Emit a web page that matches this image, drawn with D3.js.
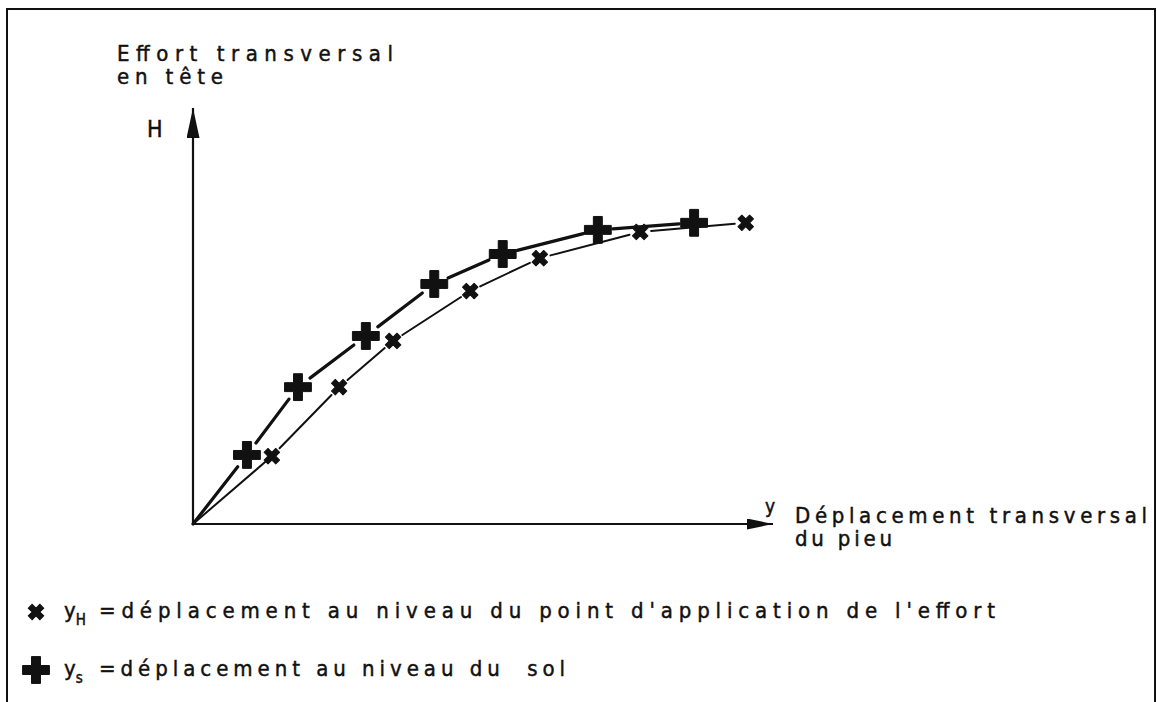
<!DOCTYPE html>
<html>
<head>
<meta charset="utf-8">
<script src="https://cdn.jsdelivr.net/npm/d3@7"></script>
<style>
  html, body { margin: 0; padding: 0; background: #fff; }
  text { font-family: "DejaVu Sans Condensed", "DejaVu Sans", sans-serif; fill: #111; stroke: #111; stroke-width: 0.45px; white-space: pre; }
</style>
</head>
<body>
<svg id="chart" width="1157" height="702"></svg>
<script>
// ---- data (arbitrary units) ----
const seriesNames = ["yH", "ys"];
const ysX = [9.3, 18.1, 29.8, 41.6, 53.4, 69.8, 86.4];
const ysY = [16.6, 32.9, 45.2, 57.7, 64.9, 70.7, 72.4];
const yhX = [13.6, 25.2, 34.5, 47.8, 59.8, 77.1, 95.3];
const yhY = [16.3, 32.9, 44.0, 56.0, 63.9, 70.2, 72.4];
const yAxisTitle = ["Effort transversal", "en tête"];
const xAxisTitle = ["Déplacement transversal", "du pieu"];
const legendTexts = ["=déplacement au niveau du point d'application de l'effort", "=déplacement au niveau du  sol"];
const legendSubs = ["H", "s"];

const svg = d3.select("#chart");
const x = d3.scaleLinear().domain([0, 100]).range([193, 773]);
const y = d3.scaleLinear().domain([0, 100]).range([524, 108]);

// frame
svg.append("path").attr("d", "M7,702 V9 H1155 V702").attr("fill", "none").attr("stroke", "#111").attr("stroke-width", 2);

// arrow markers
const defs = svg.append("defs");
defs.append("marker").attr("id", "arrV").attr("markerUnits", "userSpaceOnUse")
  .attr("viewBox", "0 0 30 13").attr("refX", 30).attr("refY", 6.5)
  .attr("markerWidth", 30).attr("markerHeight", 13).attr("orient", "auto")
  .append("path").attr("d", "M0,0 L30,6.5 L0,13 Z").attr("fill", "#111");
defs.append("marker").attr("id", "arrH").attr("markerUnits", "userSpaceOnUse")
  .attr("viewBox", "0 0 26 11").attr("refX", 26).attr("refY", 5.5)
  .attr("markerWidth", 26).attr("markerHeight", 11).attr("orient", "auto")
  .append("path").attr("d", "M0,0 L26,5.5 L0,11 Z").attr("fill", "#111");

// axes (domain lines only)
const xAxisG = svg.append("g").attr("transform", `translate(0,${y(0)})`)
  .call(d3.axisBottom(x).tickValues([]).tickSizeOuter(0));
xAxisG.select(".domain").attr("stroke", "#111").attr("stroke-width", 2.2).attr("marker-end", "url(#arrH)")
  .attr("d", `M${x(0) - 1},0 H${x(100)}`);
const yAxisG = svg.append("g").attr("transform", `translate(${x(0)},0)`)
  .call(d3.axisLeft(y).tickValues([]).tickSizeOuter(0));
yAxisG.select(".domain").attr("stroke", "#111").attr("stroke-width", 2.2).attr("marker-end", "url(#arrV)")
  .attr("d", `M0,${y(0) + 1} V${y(100)}`);

// series lines: segments between successive points, stopping short of markers
function drawSeries(xs, ys, width, gap, firstEndGap) {
  const pts = [[x(0), y(0)]].concat(xs.map((v, i) => [x(v), y(ys[i])]));
  const line = d3.line();
  for (let i = 0; i < pts.length - 1; i++) {
    const [x0, y0] = pts[i], [x1, y1] = pts[i + 1];
    const dx = x1 - x0, dy = y1 - y0, L = Math.hypot(dx, dy);
    const g0 = i === 0 ? 0 : gap, g1 = i === 0 ? firstEndGap : gap;
    const a = [x0 + dx * g0 / L, y0 + dy * g0 / L];
    const b = [x1 - dx * g1 / L, y1 - dy * g1 / L];
    svg.append("path").attr("d", line([a, b])).attr("fill", "none")
      .attr("stroke", "#111").attr("stroke-width", width).attr("stroke-linecap", "round");
  }
}
drawSeries(yhX, yhY, 2, 11, 4);
drawSeries(ysX, ysY, 3.2, 15, 15);

const plusSym = d3.symbol().type(d3.symbolCross).size(400);
const crossSym = d3.symbol().type(d3.symbolCross).size(150);

svg.append("g").selectAll("path").data(ysX).join("path")
  .attr("d", plusSym).attr("fill", "#111")
  .attr("stroke", "#111").attr("stroke-width", 1).attr("stroke-linejoin", "round")
  .attr("transform", (d, i) => `translate(${x(d)},${y(ysY[i])})`);
svg.append("g").selectAll("path").data(yhX).join("path")
  .attr("d", crossSym).attr("fill", "#111")
  .attr("stroke", "#111").attr("stroke-width", 1).attr("stroke-linejoin", "round")
  .attr("transform", (d, i) => `translate(${x(d)},${y(yhY[i])}) rotate(45)`);

// axis titles
svg.append("text").attr("x", 117).attr("y", 61).attr("font-size", 22)
  .attr("textLength", 276).attr("lengthAdjust", "spacing").text(yAxisTitle[0]);
svg.append("text").attr("x", 117).attr("y", 84).attr("font-size", 22)
  .attr("textLength", 106).attr("lengthAdjust", "spacing").text(yAxisTitle[1]);
svg.append("text").attr("x", 147).attr("y", 137).attr("font-size", 23).text("H");
svg.append("text").attr("x", 765).attr("y", 513).attr("font-size", 19).text("y");
svg.append("text").attr("x", 795).attr("y", 523).attr("font-size", 22)
  .attr("textLength", 352).attr("lengthAdjust", "spacing").text(xAxisTitle[0]);
svg.append("text").attr("x", 795).attr("y", 546).attr("font-size", 22)
  .attr("textLength", 97).attr("lengthAdjust", "spacing").text(xAxisTitle[1]);

// legend
const legY = [618, 676];
const legSyms = [crossSym, plusSym];
const legEnd = [995, 565];
legendTexts.forEach((t, i) => {
  svg.append("path").attr("d", legSyms[i]).attr("fill", "#111")
    .attr("stroke", "#111").attr("stroke-width", 1)
    .attr("transform", `translate(36,${legY[i] - 6})` + (i === 0 ? " rotate(45)" : ""));
  const tx = svg.append("text").attr("x", 64).attr("y", legY[i]).attr("font-size", 22);
  tx.append("tspan").text("y");
  tx.append("tspan").attr("font-size", 15).attr("dy", 7).text(legendSubs[i]);
  svg.append("text").attr("x", 99).attr("y", legY[i]).attr("font-size", 22)
    .attr("textLength", legEnd[i] - 99).attr("lengthAdjust", "spacing").text(t);
});
</script>
</body>
</html>
